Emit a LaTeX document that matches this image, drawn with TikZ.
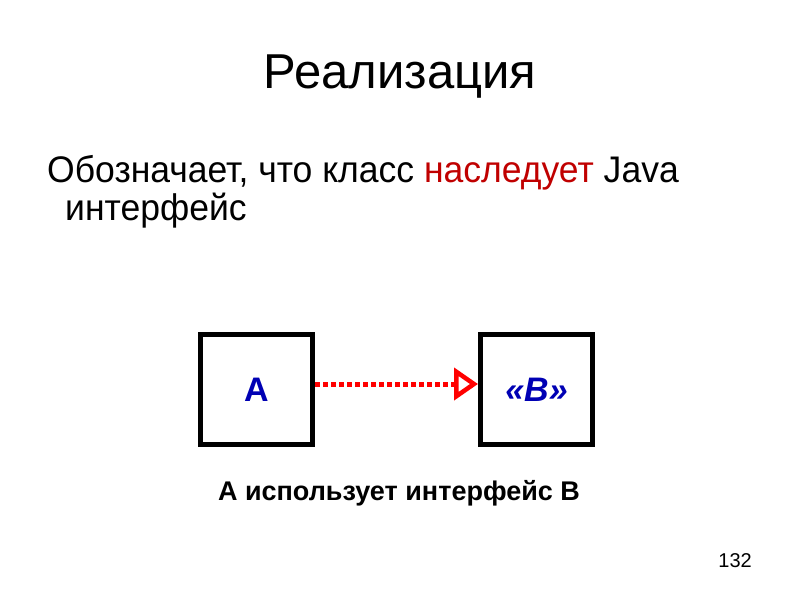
\documentclass[tikz,border=0pt]{standalone}
\usepackage{fontspec}
\setmainfont{Liberation Sans}
\usetikzlibrary{arrows.meta}
\definecolor{bodyred}{RGB}{192,0,0}
\definecolor{nodeblue}{RGB}{0,0,180}
\definecolor{arrred}{RGB}{255,0,0}
\begin{document}
\begin{tikzpicture}[x=1pt,y=-1pt,
  classbox/.style={draw=black,line width=5pt,minimum width=112pt,minimum height=110pt,inner sep=0pt,font=\fontsize{34}{40}\selectfont\bfseries,text=nodeblue},
  realize/.style={draw=arrred,line width=5pt,dash pattern=on 5pt off 3pt,-{Triangle[open,length=24pt,width=32pt,line width=4.5pt]}}]
\useasboundingbox (0,0) rectangle (800,600);
\node[anchor=base,font=\fontsize{49}{54}\selectfont] (title) at (400,88) {Реализация};
\node[anchor=base west,inner sep=0pt,font=\fontsize{37}{40}\selectfont] (l1) at (47,182) {\scalebox{0.96}[1]{Обозначает, что класс \textcolor{bodyred}{наследует} Java}};
\node[anchor=base west,inner sep=0pt,font=\fontsize{37}{40}\selectfont] (l2) at (65,220) {\scalebox{0.96}[1]{интерфейс}};
\node[classbox] (a) at (256.5,389.5) {A};
\node[classbox] (b) at (536.5,389.5) {\itshape «B»};
\draw[realize] (a.east |- 0,384) -- (b.west |- 0,384);
\node[anchor=base,font=\fontsize{27}{30}\selectfont\bfseries] (cap) at (399,500) {А использует интерфейс В};
\node[anchor=base east,inner sep=0pt,font=\fontsize{20}{24}\selectfont] (num) at (752,567) {132};
\end{tikzpicture}
\end{document}
